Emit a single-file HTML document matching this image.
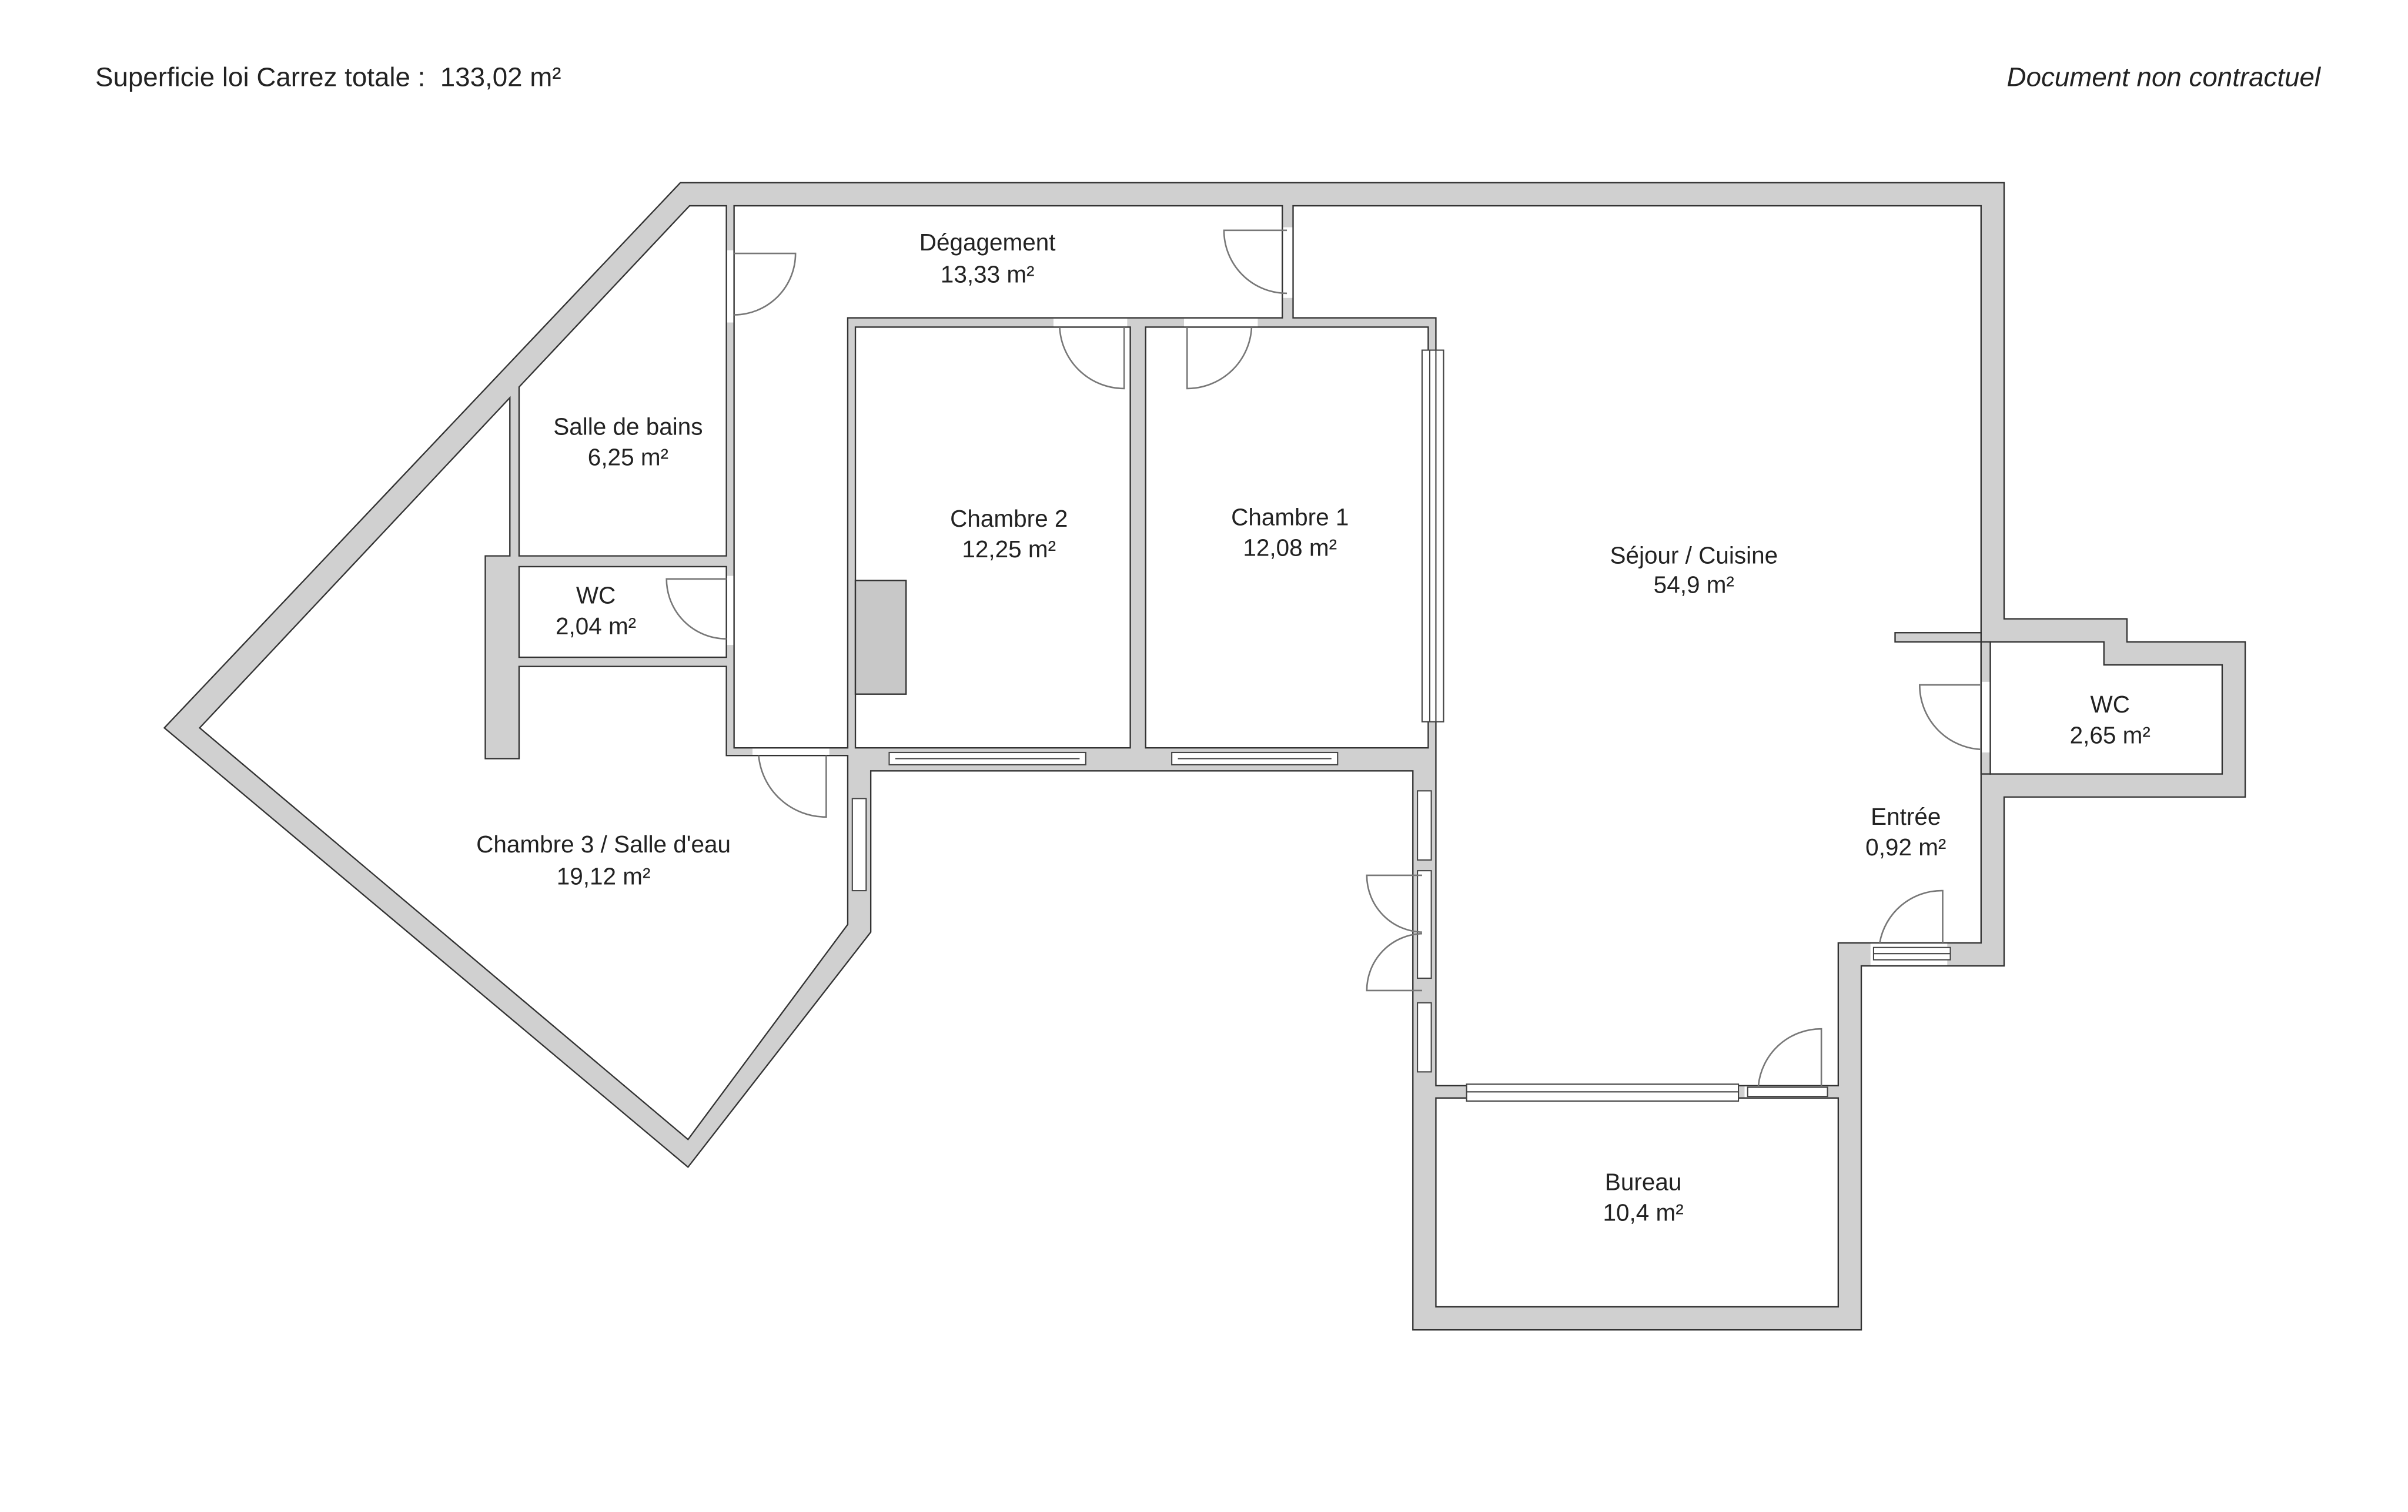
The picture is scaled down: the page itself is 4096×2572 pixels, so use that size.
<!DOCTYPE html>
<html><head><meta charset="utf-8"><style>
html,body{margin:0;padding:0;background:#fff;}
svg{display:block}
text{font-family:"Liberation Sans",sans-serif;fill:#222;white-space:pre;}
</style></head><body>
<svg width="4096" height="2572" viewBox="0 0 1568 984.6" xmlns="http://www.w3.org/2000/svg">
<rect width="1568" height="985" fill="#fff"/>
<text x="62" y="56" font-size="17.5" xml:space="preserve">Superficie loi Carrez totale :  133,02 m²</text>
<text x="1511" y="56" font-size="17.5" font-style="italic" text-anchor="end">Document non contractuel</text>

<g stroke="#333" stroke-width="0.9">
<polygon fill="#d0d0d0" points="443,119 1305,119 1305,403 1385,403 1385,418 1462,418 1462,519 1305,519 1305,629 1212,629 1212,866 920,866 920,502 567,502 567,607 448,760 107,474"/>
<g fill="#fff">
<polygon points="478,134 835,134 835,207 552,207 552,487 478,487"/>
<polygon points="842,134 1290,134 1290,614 1197,614 1197,707 935,707 935,207 842,207"/>
<rect x="935" y="715" width="262" height="136"/>
<polygon points="1296,418 1370,418 1370,433 1447,433 1447,504 1296,504"/>
<rect x="557" y="213" width="179" height="274"/>
<rect x="746" y="213" width="184" height="274"/>
<polygon points="338,252 449,134 473,134 473,362 338,362"/>
<rect x="338" y="369" width="135" height="59"/>
<polygon points="130,474 332,259 332,362 316,362 316,494 338,494 338,434 473,434 473,492 552,492 552,602 448,742"/>
</g>
<rect x="557" y="378" width="33" height="74" fill="#c8c8c8"/>
<rect x="1234" y="412" width="56" height="6" fill="#d0d0d0"/>
<rect x="1290" y="418" width="6" height="86" fill="#d0d0d0"/>
</g>

<!-- openings (white gaps) -->
<g fill="#fff" stroke="none">
<rect x="473.5" y="163" width="4" height="47"/>
<rect x="835.5" y="148" width="6" height="46"/>
<rect x="686" y="207.5" width="48" height="5"/>
<rect x="771" y="207.5" width="48" height="5"/>
<rect x="473.5" y="375" width="4" height="45"/>
<rect x="490" y="487.5" width="50" height="4"/>
<rect x="1290.5" y="444" width="5" height="46"/>
<rect x="1218" y="614.5" width="50" height="14"/>
<rect x="1136" y="707.5" width="54" height="7"/>
</g>

<!-- windows -->
<g fill="#fff" stroke="#444" stroke-width="0.8">
<rect x="926" y="228" width="14" height="242"/>
<line x1="931" y1="228" x2="931" y2="470"/><line x1="935" y1="228" x2="935" y2="470"/>
<rect x="579" y="490" width="128" height="8"/>
<line x1="583" y1="494" x2="703" y2="494"/>
<rect x="763" y="490" width="108" height="8"/>
<line x1="767" y1="494" x2="867" y2="494"/>
<rect x="955" y="706" width="177" height="11"/>
<line x1="955" y1="711" x2="1132" y2="711"/>
<rect x="555" y="520" width="9" height="60"/>
<rect x="923" y="515" width="9" height="45"/>
<rect x="923" y="567" width="9" height="70"/>
<rect x="923" y="653" width="9" height="45"/>
<rect x="1220" y="617" width="50" height="8"/>
<line x1="1220" y1="621" x2="1270" y2="621"/>
<rect x="1138" y="708" width="52" height="6"/>
</g>

<!-- doors -->
<g fill="none" stroke="#777" stroke-width="1">
<path d="M478,165 L518,165 A40,40 0 0 1 478,205"/>
<path d="M838,150 L797,150 A41,41 0 0 0 838,191"/>
<path d="M732,213 L732,253 A42,42 0 0 1 690,213"/>
<path d="M773,213 L773,253 A42,42 0 0 0 815,213"/>
<path d="M473,377 L434,377 A39,39 0 0 0 473,416"/>
<path d="M538,492 L538,532 A44,44 0 0 1 494,492"/>
<path d="M1290,446 L1250,446 A42,42 0 0 0 1290,488"/>
<path d="M1265,614 L1265,580 A41,41 0 0 0 1224,614"/>
<path d="M1186,707 L1186,670 A41,41 0 0 0 1145,707"/>
<path d="M926,570 L890,570 A37,37 0 0 0 926,607"/>
<path d="M926,645 L890,645 A37,37 0 0 1 926,608"/>
</g>

<g font-size="15.5" text-anchor="middle">
<text x="643" y="163">Dégagement</text><text x="643" y="184">13,33 m²</text>
<text x="409" y="283">Salle de bains</text><text x="409" y="303">6,25 m²</text>
<text x="388" y="393">WC</text><text x="388" y="413">2,04 m²</text>
<text x="657" y="343">Chambre 2</text><text x="657" y="363">12,25 m²</text>
<text x="840" y="342">Chambre 1</text><text x="840" y="362">12,08 m²</text>
<text x="1103" y="367">Séjour / Cuisine</text><text x="1103" y="386">54,9 m²</text>
<text x="1374" y="464">WC</text><text x="1374" y="484">2,65 m²</text>
<text x="1241" y="537">Entrée</text><text x="1241" y="557">0,92 m²</text>
<text x="393" y="555">Chambre 3 / Salle d'eau</text><text x="393" y="576">19,12 m²</text>
<text x="1070" y="775">Bureau</text><text x="1070" y="795">10,4 m²</text>
</g>
</svg>
</body></html>
